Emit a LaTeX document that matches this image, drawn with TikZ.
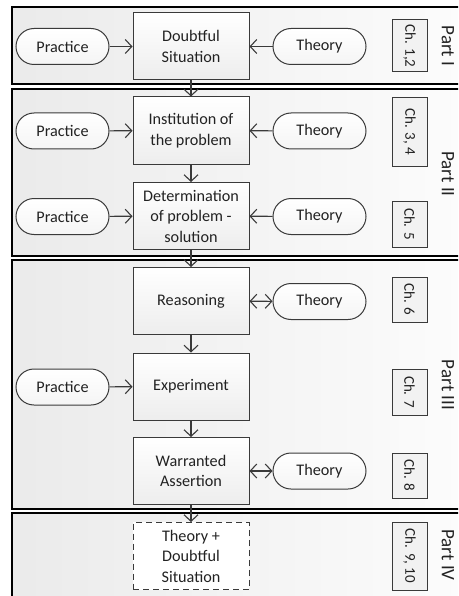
\documentclass[tikz,border=0pt]{standalone}
\usepackage{fontspec}
\setmainfont{Carlito}
\usetikzlibrary{arrows.meta}
\definecolor{ln}{HTML}{3A3A3A}
\definecolor{txt}{HTML}{222222}
\newcommand{\bodyfs}{\fontsize{16.2}{20.5}\selectfont}
\newcommand{\chfs}{\fontsize{15}{18}\selectfont}
\newcommand{\partfs}{\fontsize{19}{22}\selectfont}
\begin{document}
\begin{tikzpicture}[x=1pt,y=-1pt,
  panel/.style={draw=black, line width=1.3pt, left color=black!8, right color=black!1},
  stepbox/.style={draw=ln, line width=1pt, top color=white, bottom color=black!7,
    minimum width=116pt, minimum height=67pt, inner sep=1pt, align=center,
    font=\bodyfs, text=txt},
  pill/.style={draw=ln, line width=1pt, top color=white, bottom color=black!4,
    rounded corners=18pt, minimum width=93pt, minimum height=36pt, inner sep=1pt,
    font=\bodyfs, text=txt},
  chbox/.style={draw=ln, line width=1pt, fill=black!5, rotate=-90,
    minimum height=35pt, inner xsep=3pt, font=\chfs, text=txt},
  partlabel/.style={rotate=-90, font=\partfs, text=txt},
  tip/.tip={Straight Barb[length=6.5pt,width=14pt,line width=1.1pt]},
  flow/.style={draw=ln, line width=1.1pt, -tip},
  both/.style={draw=ln, line width=1.1pt, tip-tip}
]
\useasboundingbox (0,0) rectangle (458,596);
\clip (0,0) rectangle (458,596);

% the four part panels
\draw[panel] (12,7) rectangle (475,84);
\draw[panel] (12,89) rectangle (475,256);
\draw[panel] (12,260) rectangle (475,509);
\draw[panel] (12,513) rectangle (475,612);

% main sequence of steps
\node[stepbox] (ds)   at (191,46.5)  {Doubtful\\Situation};
\node[stepbox] (inst) at (191,130.5) {Institution of\\the problem};
\node[stepbox] (det)  at (191,216)   {Determination\\of problem -\\solution};
\node[stepbox] (reas) at (191,301)   {Reasoning};
\node[stepbox] (exp)  at (191,386.5) {Experiment};
\node[stepbox] (war)  at (191,471)   {Warranted\\Assertion};
\node[stepbox, dashed, dash pattern=on 6pt off 4pt, top color=white, bottom color=white] (td) at (191,556) {Theory +\\Doubtful\\Situation};

% practice inputs
\node[pill] (p1) at (62.5,46.5)  {Practice};
\node[pill] (p2) at (62.5,131)   {Practice};
\node[pill] (p3) at (62.5,216.5) {Practice};
\node[pill] (p4) at (62.5,387)   {Practice};

% theory inputs
\node[pill] (t1) at (319.5,46.5)  {Theory};
\node[pill] (t2) at (319.5,131)   {Theory};
\node[pill] (t3) at (319.5,216.5) {Theory};
\node[pill] (t4) at (319.5,301.5) {Theory};
\node[pill] (t5) at (319.5,471)   {Theory};

% chapter tags
\node[chbox, minimum width=52pt] (c1) at (409.5,46)  {Ch. 1,2};
\node[chbox, minimum width=68pt] (c2) at (409.5,132) {Ch. 3, 4};
\node[chbox, minimum width=46pt] (c3) at (409.5,224) {Ch. 5};
\node[chbox, minimum width=45pt] (c4) at (409.5,299.5) {Ch. 6};
\node[chbox, minimum width=46pt] (c5) at (409.5,392) {Ch. 7};
\node[chbox, minimum width=45pt] (c6) at (409.5,475.5) {Ch. 8};
\node[chbox, minimum width=68pt] (c7) at (409.5,556) {Ch. 9, 10};

% part labels
\node[partlabel] (l1) at (448,46)  {Part I};
\node[partlabel] (l2) at (448,174) {Part II};
\node[partlabel] (l3) at (448,385) {Part III};
\node[partlabel] (l4) at (448,555) {Part IV};

% connectors
\draw[flow] (ds) -- (inst);
\draw[flow] (inst) -- (det);
\draw[flow] (det) -- (reas);
\draw[flow] (reas) -- (exp);
\draw[flow] (exp) -- (war);
\draw[flow] (war) -- (td);

\draw[flow] (p1) -- (ds);
\draw[flow] (p2) -- (inst);
\draw[flow] (p3) -- (det);
\draw[flow] (p4) -- (exp);

\draw[flow] (t1) -- (ds);
\draw[flow] (t2) -- (inst);
\draw[flow] (t3) -- (det);
\draw[both] (reas) -- (t4);
\draw[both] (war) -- (t5);
\end{tikzpicture}
\end{document}
